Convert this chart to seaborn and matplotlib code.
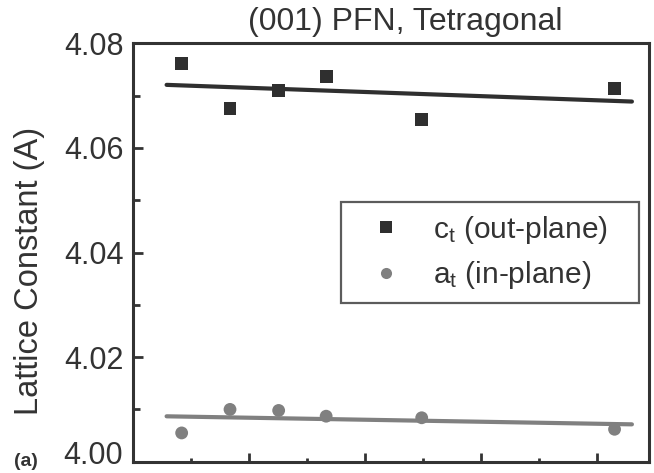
import numpy as np
import pandas as pd
import matplotlib
matplotlib.use("Agg")
import matplotlib.pyplot as plt
import matplotlib.transforms as mtransforms
from matplotlib.ticker import MultipleLocator, NullFormatter
from matplotlib.lines import Line2D
import seaborn as sns

# ---- data ----
x_pos = [8.35, 16.7, 25.1, 33.3, 49.8, 83.1]
c_t = [4.0762, 4.0676, 4.0709, 4.0736, 4.0655, 4.0713]
a_t = [4.0055, 4.0100, 4.0098, 4.0087, 4.0084, 4.0062]
series_names = ["c$_\\mathregular{t}$ (out-plane)", "a$_\\mathregular{t}$ (in-plane)"]
title = "(001) PFN, Tetragonal"
ylabel = "Lattice Constant (A)"
y_ticks = [4.00, 4.02, 4.04, 4.06, 4.08]

df = pd.DataFrame({
    "x": x_pos * 2,
    "y": c_t + a_t,
    "series": [series_names[0]] * len(x_pos) + [series_names[1]] * len(x_pos),
})

sns.set_style("white")
plt.rcParams["font.family"] = ["Liberation Sans", "DejaVu Sans"]
plt.rcParams["mathtext.default"] = "regular"

dark = "#2f2f2f"
gray = "#808080"
txt = "#333333"
palette = {series_names[0]: dark, series_names[1]: gray}
markers = {series_names[0]: "s", series_names[1]: "o"}

fig = plt.figure(figsize=(6.54, 4.73), dpi=100)
ax = fig.add_axes([133.3 / 654, 1 - 461.7 / 473, (649.3 - 133.3) / 654, (461.7 - 43.3) / 473])

# linear fits
fit_x = np.array([min(x_pos) - 2.6, max(x_pos) + 3.0])
fit_rows = []
for name, vals in zip(series_names, [c_t, a_t]):
    k, b = np.polyfit(x_pos, vals, 1)
    for xx in fit_x:
        fit_rows.append({"x": xx, "y": k * xx + b, "series": name})
fit_df = pd.DataFrame(fit_rows)
sns.lineplot(data=fit_df, x="x", y="y", hue="series", palette=palette,
             linewidth=3.0, legend=False, ax=ax, zorder=2)

sns.scatterplot(data=df, x="x", y="y", hue="series", style="series",
                palette=palette, markers=markers, s=85, linewidth=0,
                legend=False, ax=ax, zorder=3)

ax.set_xlim(0, 89.1)
ax.set_ylim(4.00, 4.08)
ax.set_yticks(y_ticks)
labels = [f"{v:.2f}" for v in y_ticks]
ax.set_yticklabels([""] + labels[1:])
ax.yaxis.set_minor_locator(MultipleLocator(0.01))
ax.xaxis.set_major_locator(MultipleLocator(20))
ax.xaxis.set_minor_locator(MultipleLocator(10))
ax.xaxis.set_major_formatter(NullFormatter())
ax.set_xlabel("")
ax.set_ylabel(ylabel, fontsize=23.5, color=txt)
ax.yaxis.set_label_coords(-0.172, 0.456)

# bottom tick label sits slightly above its tick in the reference
off = mtransforms.ScaledTranslation(-10 / 100, 5.5 / 100, fig.dpi_scale_trans)
ax.text(0, y_ticks[0], labels[0], transform=ax.get_yaxis_transform() + off,
        ha="right", va="center", fontsize=22, color=txt)

for sp in ax.spines.values():
    sp.set_linewidth(2.2)
    sp.set_color(txt)

ax.tick_params(axis="y", which="major", direction="in", length=7.5, width=2.0,
               labelsize=22, pad=7, colors=txt, left=True, right=False)
ax.tick_params(axis="y", which="minor", direction="in", length=5, width=2.0,
               left=True, right=False, colors=txt)
ax.tick_params(axis="x", which="major", direction="in", length=6.5, width=2.0,
               bottom=True, top=False, colors=txt)
ax.tick_params(axis="x", which="minor", direction="in", length=3, width=2.0,
               bottom=True, top=False, colors=txt)

handles = [
    Line2D([], [], linestyle="none", marker="s", markersize=8, color=dark, markeredgewidth=0),
    Line2D([], [], linestyle="none", marker="o", markersize=8, color=gray, markeredgewidth=0),
]
leg = ax.legend(handles, series_names, loc="upper left",
                bbox_to_anchor=(0.402, 0.380, 0.579, 0.241), mode="expand",
                borderaxespad=0, fontsize=21.5, frameon=True, fancybox=False,
                handlelength=2.2, handletextpad=0.5, labelspacing=0.45,
                borderpad=0.4)
leg.get_frame().set_edgecolor(txt)
leg.get_frame().set_linewidth(1.6)
for t in leg.get_texts():
    t.set_color(txt)

fig.text(405 / 654, 1 - 30 / 473, title, ha="center", va="baseline",
         fontsize=23, color=txt)
fig.text(26 / 654, 1 - 461 / 473, "(a)", ha="center", va="center",
         fontsize=14, fontweight="bold", color=txt)

fig.savefig("out.png", dpi=100, facecolor="white")
